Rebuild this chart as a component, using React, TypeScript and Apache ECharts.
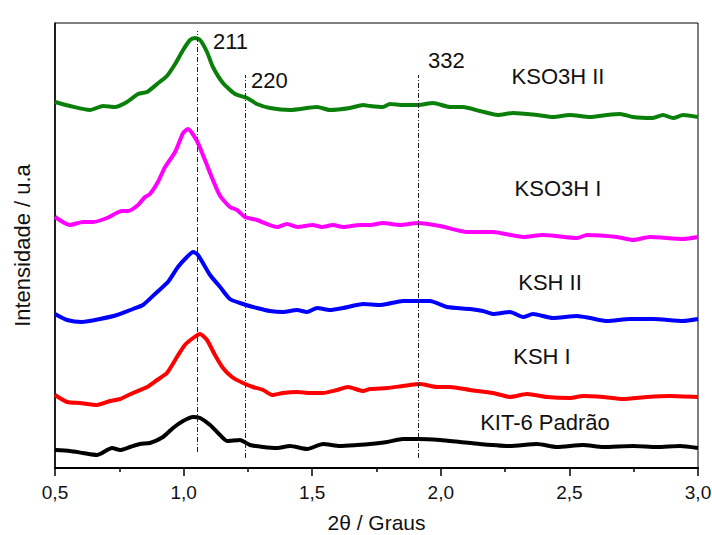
import React, { useEffect, useRef } from "react";
import * as echarts from "echarts";

// 2θ (degrees) and intensity (a.u., stacked offsets as plotted)
const ksO3HII: [number, number][] = [
  [0.5, 366], [0.558, 362], [0.636, 358], [0.687, 362], [0.733, 361], [0.78, 366], [0.823, 374],
  [0.858, 376], [0.897, 384], [0.935, 392], [0.967, 404], [0.998, 418], [1.025, 428], [1.044, 430],
  [1.064, 428], [1.091, 416], [1.114, 401], [1.153, 385], [1.2, 374], [1.247, 370], [1.285, 364],
  [1.336, 360], [1.414, 358], [1.519, 361], [1.569, 358], [1.647, 360], [1.698, 363], [1.725, 362],
  [1.775, 361], [1.802, 364], [1.853, 363], [1.911, 363], [1.97, 365], [2.036, 361], [2.086, 361],
  [2.152, 357], [2.222, 353], [2.281, 355], [2.374, 353], [2.436, 351], [2.502, 353], [2.58, 351],
  [2.646, 353], [2.697, 354], [2.747, 351], [2.825, 350], [2.864, 353], [2.903, 350], [2.942, 353],
  [3.0, 351],
];
const ksO3HI: [number, number][] = [
  [0.5, 251], [0.558, 243], [0.609, 246], [0.648, 246], [0.702, 250], [0.76, 257], [0.784, 257],
  [0.823, 263], [0.85, 271], [0.869, 274], [0.9, 286], [0.928, 301], [0.967, 316], [0.998, 335],
  [1.017, 339], [1.052, 327], [1.083, 308], [1.114, 288], [1.142, 272], [1.18, 261], [1.208, 258],
  [1.239, 251], [1.285, 248], [1.363, 241], [1.402, 244], [1.441, 241], [1.503, 243], [1.538, 241],
  [1.581, 243], [1.62, 241], [1.686, 243], [1.725, 243], [1.775, 245], [1.841, 243], [1.911, 245],
  [1.997, 242], [2.102, 236], [2.203, 236], [2.32, 231], [2.397, 233], [2.53, 230], [2.568, 233],
  [2.685, 231], [2.747, 228], [2.813, 231], [2.942, 229], [3.0, 231],
];
const kshII: [number, number][] = [
  [0.5, 154], [0.547, 148], [0.605, 146], [0.675, 149], [0.741, 153], [0.803, 159], [0.842, 163],
  [0.897, 176], [0.939, 186], [0.978, 201], [1.013, 211], [1.037, 216], [1.056, 213], [1.103, 193],
  [1.142, 181], [1.18, 169], [1.231, 164], [1.285, 160], [1.336, 157], [1.386, 156], [1.441, 158],
  [1.48, 156], [1.519, 160], [1.569, 158], [1.62, 160], [1.698, 164], [1.764, 163], [1.791, 164],
  [1.853, 167], [1.911, 167], [1.958, 167], [2.024, 161], [2.114, 159], [2.164, 157], [2.203, 154],
  [2.269, 156], [2.32, 151], [2.358, 154], [2.436, 150], [2.53, 152], [2.58, 150], [2.646, 147],
  [2.736, 149], [2.825, 149], [2.942, 147], [3.0, 149],
];
const kshI: [number, number][] = [
  [0.5, 73], [0.547, 66], [0.597, 65], [0.663, 63], [0.714, 67], [0.753, 69], [0.803, 75],
  [0.858, 81], [0.897, 88], [0.935, 95], [0.974, 111], [1.005, 123], [1.037, 130], [1.064, 134],
  [1.091, 128], [1.122, 113], [1.153, 100], [1.188, 91], [1.231, 85], [1.27, 81], [1.309, 78],
  [1.344, 73], [1.386, 75], [1.441, 76], [1.491, 75], [1.542, 75], [1.596, 78], [1.639, 81],
  [1.698, 77], [1.725, 79], [1.791, 80], [1.853, 82], [1.919, 84], [1.985, 81], [2.036, 81],
  [2.114, 78], [2.203, 75], [2.269, 71], [2.335, 74], [2.413, 71], [2.502, 70], [2.553, 72],
  [2.631, 71], [2.708, 69], [2.802, 71], [2.891, 72], [3.0, 71],
];
const kit6: [number, number][] = [
  [0.5, 18], [0.558, 17], [0.609, 15], [0.663, 13], [0.722, 20], [0.753, 18], [0.792, 21],
  [0.83, 24], [0.869, 25], [0.92, 31], [0.959, 40], [0.998, 47], [1.037, 51], [1.064, 50],
  [1.103, 43], [1.134, 35], [1.169, 27], [1.219, 28], [1.258, 23], [1.309, 21], [1.363, 20],
  [1.414, 22], [1.48, 19], [1.542, 24], [1.608, 22], [1.674, 23], [1.725, 24], [1.791, 26],
  [1.853, 29], [1.911, 29], [1.997, 28], [2.075, 26], [2.152, 24], [2.269, 22], [2.374, 24],
  [2.452, 21], [2.553, 23], [2.631, 21], [2.747, 22], [2.841, 21], [2.93, 22], [3.0, 20],
];

const seriesNames = ["KSO3H II", "KSO3H I", "KSH II", "KSH I", "KIT-6 Padrão"];
const seriesColors = ["#0a800a", "#ff00ff", "#0000ff", "#ff0000", "#000000"];

// reflection positions (2θ) with the intensity span of their guide lines
const peakLabels = ["211", "220", "332"];
const peakPositions = [1.052, 1.239, 1.911];
const peakTop = [437, 393, 393];
const peakBottom = [16, 10, 10];

const FONT = "'Liberation Sans', Arial, Helvetica, sans-serif";

export default function App() {
  const ref = useRef<HTMLDivElement>(null);
  useEffect(() => {
    if (!ref.current) return;
    const chart = echarts.init(ref.current, undefined, { renderer: "svg" });
    const allData = [ksO3HII, ksO3HI, kshII, kshI, kit6];
    const series: any[] = allData.map((d, i) => ({
      name: seriesNames[i],
      type: "line",
      data: d,
      symbol: "none",
      smooth: 0.2,
      lineStyle: { color: seriesColors[i], width: 4 },
      z: 3,
    }));
    series.push({
      name: "peaks",
      type: "line",
      data: [],
      markLine: {
        silent: true,
        symbol: "none",
        animation: false,
        label: { show: false },
        lineStyle: { color: "#222", width: 1, type: [5, 2, 1, 2] },
        data: peakPositions.map((p, i) => [
          { coord: [p, peakBottom[i]] },
          { coord: [p, peakTop[i]] },
        ]),
      },
    });

    const textStyle = (t: string, x: number, y: number, align: string = "left") => ({
      type: "text",
      x,
      y,
      style: {
        text: t,
        fill: "#111",
        font: `22px ${FONT}`,
        textAlign: align,
        textVerticalAlign: "middle",
      },
    });

    chart.setOption({
      animation: false,
      backgroundColor: "#fff",
      grid: {
        left: 55,
        right: 14,
        top: 23,
        bottom: 67,
        show: true,
        borderColor: "#000",
        borderWidth: 1,
        outerBoundsMode: "none",
        containLabel: false,
      },
      xAxis: {
        type: "value",
        min: 0.5,
        max: 3.0,
        interval: 0.5,
        name: "2θ / Graus",
        nameLocation: "middle",
        nameGap: 44,
        nameTextStyle: { fontFamily: FONT, fontSize: 21, color: "#111" },
        axisLine: { show: true, lineStyle: { color: "#000", width: 2 } },
        axisTick: { show: true, length: 8, lineStyle: { color: "#000", width: 1.5 } },
        minorTick: { show: true, splitNumber: 2, length: 4, lineStyle: { color: "#000", width: 1.5 } },
        axisLabel: {
          fontFamily: FONT,
          fontSize: 19,
          color: "#111",
          margin: 15,
          formatter: (v: number) => v.toFixed(1).replace(".", ","),
        },
        splitLine: { show: false },
      },
      yAxis: {
        type: "value",
        min: 0,
        max: 445,
        name: "Intensidade / u.a",
        nameLocation: "middle",
        nameGap: 22,
        nameTextStyle: { fontFamily: FONT, fontSize: 22, color: "#111" },
        axisLine: { show: true, lineStyle: { color: "#000", width: 1.5 } },
        axisTick: { show: false },
        axisLabel: { show: false },
        splitLine: { show: false },
      },
      series,
      graphic: [
        textStyle(peakLabels[0], 213, 41),
        textStyle(peakLabels[1], 251, 80),
        textStyle(peakLabels[2], 428, 60),
        textStyle(seriesNames[0], 558, 76, "center"),
        textStyle(seriesNames[1], 558, 188, "center"),
        textStyle(seriesNames[2], 550, 282, "center"),
        textStyle(seriesNames[3], 542, 356, "center"),
        textStyle(seriesNames[4], 545, 422, "center"),
      ],
    });
    return () => chart.dispose();
  }, []);
  return (
    <div
      ref={ref}
      style={{ position: "fixed", left: 0, top: 0, width: 712, height: 535, background: "#fff" }}
    />
  );
}
